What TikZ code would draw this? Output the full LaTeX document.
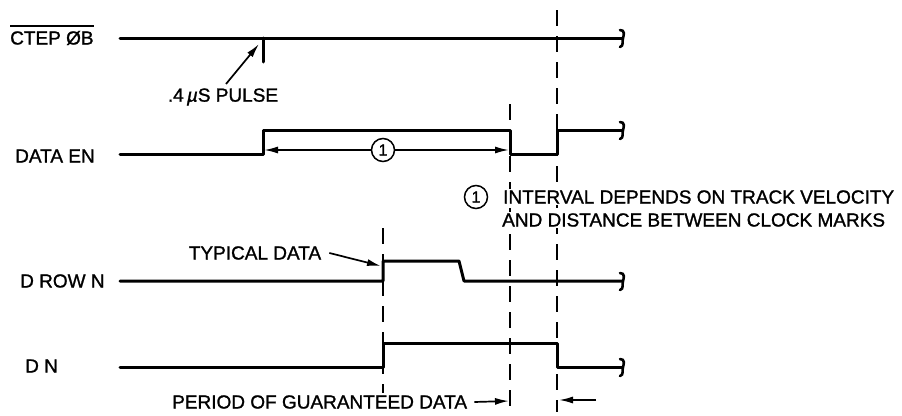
\documentclass[tikz,border=0pt]{standalone}
\usepackage{fontspec}
\setmainfont{Liberation Sans}[FakeBold=1.2]
\usetikzlibrary{arrows.meta}
\begin{document}
\begin{tikzpicture}[x=1pt,y=-1pt,
  sig/.style={line width=3pt, line join=round, line cap=round},
  guide/.style={line width=2pt, dash pattern=on 16pt off 10pt},
  ptr/.style={line width=1.7pt, -{Latex[length=14pt,width=7pt]}},
  lbl/.style={inner sep=0pt, font=\fontsize{19}{22}\selectfont},
  note/.style={lbl, fill=white, inner sep=1pt},
  num/.style={draw, circle, line width=1.5pt, minimum size=23pt, inner sep=0pt, font=\fontsize{16}{17}\selectfont}]
\useasboundingbox (0,0) rectangle (902,415);

% guide lines (drawn first, text sits above them)
\draw[guide] (557,10) -- (557,412);
\draw[guide] (510,104) -- (510,412);
\draw[guide] (383,228) -- (383,393);

% labels
\node[lbl, anchor=west] (lctep) at (10,38) {CTEP ØB};
\draw[line width=1.6pt] ([yshift=5pt]lctep.north west) -- ([yshift=5pt]lctep.north east);
\node[lbl, anchor=west] (lden) at (15,156) {DATA EN};
\node[lbl, anchor=west] (ldrow) at (20,281) {D ROW N};
\node[lbl, anchor=west] (ldn) at (25,366) {D N};

% end squiggle
\tikzset{endmark/.pic={\draw[line width=2.6pt, line cap=round] (-3,-8) .. controls (2,-8) and (1,-3) .. (0,0) .. controls (-1,3) and (1,8) .. (-3,9);}}

% CTEP
\draw[sig] (120,38) -- (622,38);
\pic at (623,38) {endmark};
\draw[sig] (263,38) -- (263,62);
\coordinate (ptip) at (259,44);
\node[lbl] (lpulse) at (223,97) {.4\,{\itshape µ}S PULSE};
\draw[ptr] (226,84) -- (ptip);

% DATA EN
\draw[sig] (120,154) -- (263,154) -- (263,130) -- (510,130) -- (510,154) -- (557,154) -- (557,130) -- (622,130);
\pic at (623,130) {endmark};
\node[num] (c1) at (383,150) {1};
\coordinate (dl) at (264,150);
\coordinate (dr) at (509,150);
\draw[ptr] (c1) -- (dl);
\draw[ptr] (c1) -- (dr);

% note
\node[num] (c2) at (476,197) {1};
\node[note, anchor=west] (n1) at (502,197) {INTERVAL DEPENDS ON TRACK VELOCITY};
\node[note, anchor=west] (n2) at (501,220) {AND DISTANCE BETWEEN CLOCK MARKS};

% D ROW N
\draw[sig] (120,281) -- (383,281) -- (383,261) -- (459,261) -- (464,281) -- (622,281);
\pic at (623,281) {endmark};
\node[lbl] (ltyp) at (255,253) {TYPICAL DATA};
\coordinate (ttip) at (381,266);
\draw[ptr] (ltyp.east) ++(8,0) -- (ttip);

% D N
\draw[sig] (120,367) -- (383,367) -- (383,343) -- (557,343) -- (557,367) -- (622,367);
\pic at (623,367) {endmark};

% period
\node[lbl, anchor=west] (lper) at (172,402) {PERIOD OF GUARANTEED DATA};
\coordinate (pl) at (509,401);
\coordinate (pr) at (559,400);
\draw[ptr] (lper.east) ++(7,0) -- (pl);
\draw[ptr] (596,400) -- (pr);
\end{tikzpicture}
\end{document}
